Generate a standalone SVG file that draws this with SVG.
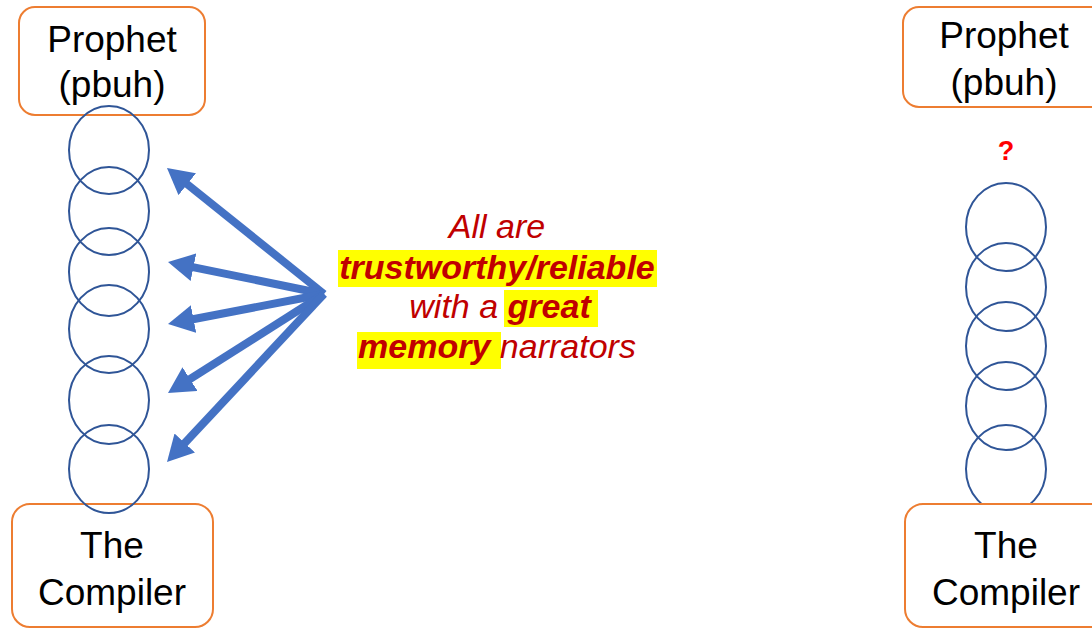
<svg xmlns="http://www.w3.org/2000/svg" width="1092" height="629" viewBox="0 0 1092 629">
  <defs>
    <style>
      .box { fill: #FFFFFF; stroke: #ED7D31; stroke-width: 2; }
      .lbl { font-family: "Liberation Sans", Arial, sans-serif; font-size: 37px; fill: #000000; text-anchor: middle; }
      .ring { fill: none; stroke: #2F5597; stroke-width: 2; }
      .arrow { stroke: #4472C4; stroke-width: 8; fill: none; marker-end: url(#head); }
      .note { font-family: "Liberation Sans", Arial, sans-serif; font-size: 34px; font-style: italic; fill: #C00000; text-anchor: middle; }
      .b { font-weight: bold; }
      .hl { fill: #FFFF00; }
    </style>
    <marker id="head" viewBox="0 0 26 28" refX="2" refY="14" markerWidth="26" markerHeight="28" markerUnits="userSpaceOnUse" orient="auto">
      <path d="M0,0 L26,14 L0,28 Z" fill="#4472C4"/>
    </marker>
  </defs>
  <rect width="1092" height="629" fill="#FFFFFF"/>

  <g id="left-prophet">
    <rect class="box" x="19" y="7" width="186" height="108" rx="16"/>
    <text class="lbl" x="112" y="52">Prophet</text>
    <text class="lbl" x="112" y="97">(pbuh)</text>
  </g>

  <g id="left-compiler">
    <rect class="box" x="12" y="504" width="201" height="123" rx="18"/>
    <text class="lbl" x="112" y="558">The</text>
    <text class="lbl" x="112" y="605">Compiler</text>
  </g>

  <g id="left-chain">
    <ellipse class="ring" cx="109" cy="150" rx="40" ry="44"/>
    <ellipse class="ring" cx="109" cy="211" rx="40" ry="44"/>
    <ellipse class="ring" cx="109" cy="272" rx="40" ry="44"/>
    <ellipse class="ring" cx="109" cy="329" rx="40" ry="44"/>
    <ellipse class="ring" cx="109" cy="400" rx="40" ry="44"/>
    <ellipse class="ring" cx="109" cy="469" rx="40" ry="44"/>
  </g>

  <g id="connectors">
    <line class="arrow" x1="324" y1="294" x2="185.7" y2="183"/>
    <line class="arrow" x1="324" y1="294" x2="191.5" y2="266.8"/>
    <line class="arrow" x1="324" y1="294" x2="191.6" y2="319.5"/>
    <line class="arrow" x1="324" y1="294" x2="188.3" y2="380.1"/>
    <line class="arrow" x1="324" y1="294" x2="183.4" y2="444.5"/>
  </g>

  <g id="note">
    <rect class="hl" x="338" y="250" width="319" height="37"/>
    <rect class="hl" x="504" y="290" width="94" height="37"/>
    <rect class="hl" x="357" y="332" width="144" height="37"/>
    <text class="note" x="497" y="238">All are</text>
    <text class="note b" x="497" y="279">trustworthy/reliable</text>
    <text class="note" x="500" y="318">with a <tspan class="b">great</tspan></text>
    <text class="note" x="497" y="358"><tspan class="b">memory</tspan> narrators</text>
  </g>

  <g id="right-prophet">
    <rect class="box" x="903" y="7" width="210" height="100" rx="16"/>
    <text class="lbl" x="1004" y="48">Prophet</text>
    <text class="lbl" x="1004" y="95">(pbuh)</text>
  </g>

  <g id="right-question">
    <text x="1006" y="160" font-family="Liberation Sans, Arial, sans-serif" font-size="27" font-weight="bold" fill="#FF0000" text-anchor="middle">?</text>
  </g>

  <g id="right-chain">
    <ellipse class="ring" cx="1006" cy="227" rx="40" ry="44"/>
    <ellipse class="ring" cx="1006" cy="287" rx="40" ry="44"/>
    <ellipse class="ring" cx="1006" cy="346" rx="40" ry="44"/>
    <ellipse class="ring" cx="1006" cy="406" rx="40" ry="44"/>
    <ellipse class="ring" cx="1006" cy="469" rx="40" ry="44"/>
  </g>

  <g id="right-compiler">
    <rect class="box" x="905" y="504" width="210" height="123" rx="18"/>
    <text class="lbl" x="1006" y="558">The</text>
    <text class="lbl" x="1006" y="605">Compiler</text>
  </g>
</svg>
